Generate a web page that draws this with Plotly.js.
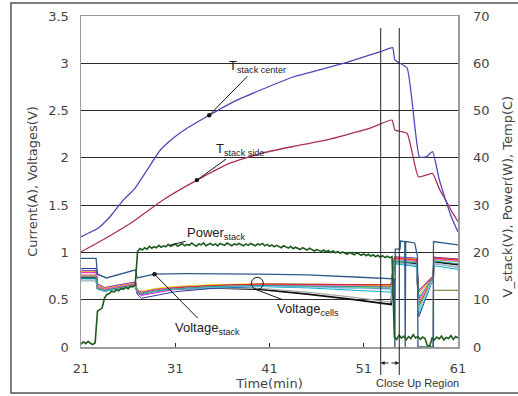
<!DOCTYPE html>
<html><head><meta charset="utf-8">
<script src="https://cdn.plot.ly/plotly-3.0.1.min.js"></script>
<style>html,body{margin:0;padding:0;background:#fff}#chart{width:518px;height:396px}</style>
</head><body><div id="chart"></div>
<script>
// ---- data (time in min) ----
const xTicks = [21, 31, 41, 51, 61];

// cell voltages (left axis, V)
const cellTime = [21, 22.6, 22.75, 23.5, 26.8, 26.95, 27.4, 29, 31, 35, 40, 45, 50, 53.9, 54.25, 56.6, 56.85, 58.2, 58.35, 58.45, 61];
const cell13 = [0.73, 0.73, 0.62, 0.595, 0.655, 0.58, 0.56, 0.595, 0.615, 0.625, 0.61, 0.56, 0.50, 0.45, 0.90, 0.88, 0.44, 0.70, 0.70, 0.90, 0.87];
const cell11 = [0.70, 0.70, 0.61, 0.59, 0.65, 0.58, 0.56, 0.59, 0.61, 0.625, 0.62, 0.58, 0.525, 0.475, 0.89, 0.86, 0.42, 0.69, 0.69, 0.88, 0.84];
const cell01 = [0.83, 0.83, 0.67, 0.60, 0.66, 0.56, 0.515, 0.545, 0.585, 0.62, 0.64, 0.635, 0.625, 0.615, 0.93, 0.90, 0.32, 0.68, 0.68, 0.93, 0.91];
const cell02 = [0.79, 0.79, 0.65, 0.62, 0.68, 0.60, 0.58, 0.61, 0.63, 0.65, 0.665, 0.66, 0.655, 0.65, 0.95, 0.93, 0.45, 0.72, 0.72, 0.95, 0.93];
const cell03 = [0.80, 0.80, 0.66, 0.625, 0.685, 0.61, 0.59, 0.62, 0.64, 0.66, 0.67, 0.665, 0.66, 0.655, 0.94, 0.92, 0.55, 0.73, 0.73, 0.94, 0.92];
const cell04 = [0.76, 0.76, 0.635, 0.60, 0.66, 0.59, 0.57, 0.60, 0.62, 0.64, 0.65, 0.64, 0.63, 0.625, 0.92, 0.90, 0.40, 0.70, 0.70, 0.92, 0.90];
const cell05 = [0.72, 0.72, 0.615, 0.59, 0.65, 0.58, 0.56, 0.59, 0.61, 0.63, 0.64, 0.625, 0.60, 0.58, 0.88, 0.85, 0.35, 0.68, 0.68, 0.86, 0.82];
const cell06 = [0.79, 0.79, 0.645, 0.61, 0.67, 0.57, 0.545, 0.575, 0.61, 0.64, 0.655, 0.65, 0.645, 0.64, 0.93, 0.91, 0.50, 0.72, 0.72, 0.93, 0.91];
const cell07 = [0.81, 0.81, 0.67, 0.63, 0.69, 0.60, 0.58, 0.61, 0.63, 0.65, 0.665, 0.665, 0.66, 0.66, 0.955, 0.94, 0.60, 0.74, 0.74, 0.95, 0.93];
const cell08 = [0.77, 0.77, 0.64, 0.605, 0.665, 0.595, 0.575, 0.605, 0.625, 0.645, 0.66, 0.65, 0.64, 0.635, 0.93, 0.91, 0.48, 0.71, 0.71, 0.93, 0.91];
const cell09 = [0.75, 0.75, 0.625, 0.60, 0.66, 0.59, 0.57, 0.60, 0.625, 0.65, 0.665, 0.66, 0.66, 0.66, 0.94, 0.92, 0.58, 0.73, 0.73, 0.94, 0.92];
const cell10 = [0.71, 0.71, 0.62, 0.595, 0.655, 0.585, 0.565, 0.595, 0.615, 0.635, 0.645, 0.635, 0.62, 0.61, 0.90, 0.87, 0.38, 0.69, 0.69, 0.89, 0.85];
const cell12 = [0.74, 0.74, 0.62, 0.60, 0.655, 0.585, 0.565, 0.595, 0.615, 0.64, 0.65, 0.645, 0.64, 0.635, 0.91, 0.89, 0.52, 0.71, 0.71, 0.91, 0.88];

// current (left axis, A) – only visible in the close-up region
const currentTime = [58.4, 58.4, 61];
const currentVal = [0, 0.6, 0.6];

// stack voltage (right axis, V)
const vStackTime = [21, 22.6, 22.75, 23.7, 26.8, 26.95, 28.8, 32, 40, 45, 50, 53.9, 54.25, 54.3, 54.35, 54.85, 54.9, 55.35, 55.4, 55.45, 56.4, 56.7, 56.75, 58.35, 58.4, 61];
const vStack = [18.74, 18.74, 15.4, 14.6, 16.3, 14.6, 15.4, 15.5, 15.4, 15.25, 14.8, 14.4, 14.4, 0, 20.7, 20.7, 22.4, 22.3, 0, 22.3, 22.0, 19.2, 0, 0, 22.3, 21.6];

// stack power (right axis, W), sampled every 0.25 min from 21 min
const powerStart = 21, powerStep = 0.25;
const powerStack = [
  0.6, 1.1, 0.7, 1.2, 0.8, 0.5, 0.9,
  7.6, 7.9, 8.3,
  10.4, 11.1, 11.3, 11.8, 11.6, 12.1, 11.9, 12.4, 12.2, 12.6, 12.3, 12.8, 12.7, 13.1,
  20.2, 20.8, 20.5, 21.0, 20.7, 21.3, 20.9, 21.2, 21.0, 21.5, 21.1, 21.4, 21.2, 21.7, 21.3, 21.5,
  21.8, 21.3, 21.6, 21.9, 21.4, 21.7, 21.5, 22.0, 21.6, 21.3, 21.8, 21.6, 22.0, 21.4, 21.7, 21.9, 21.5, 21.8, 21.4, 21.9,
  21.7, 21.5, 22.0, 21.6, 21.4, 21.8, 21.6, 21.9, 21.7, 21.4, 21.8, 21.5, 21.9, 21.6, 21.4, 21.8, 21.6, 21.9, 21.4, 21.7,
  21.3, 21.6, 21.2, 21.5, 21.3, 21.0, 21.4, 21.1, 20.9, 21.3, 20.8, 21.1, 20.9, 20.6, 21.0, 20.7, 20.5, 20.9, 20.6, 20.3,
  20.6, 20.4, 20.2, 20.5, 20.1, 20.4, 20.0, 20.3, 19.9, 20.2, 19.8, 20.1, 19.9, 19.6, 20.0, 19.7, 19.5, 19.9, 19.6, 19.4,
  19.7, 19.3, 19.6, 19.2, 19.5, 19.1, 19.4, 19.0, 19.3, 18.9, 19.2, 18.9, 19.1,
  2.1, 1.6, 2.5, 1.9, 2.3, 1.5, 2.2, 1.8, 2.6, 1.9, 2.2, 1.6, 2.1, 1.8,
  0.3, 0.2,
  1.9, 1.5, 2.1, 1.7, 2.3, 1.5, 2.0, 1.8, 2.4, 1.6, 2.2, 1.9
];
const powerTime = powerStack.map((_, i) => powerStart + i * powerStep);

// temperatures (right axis, C)
const tCenterTime = [21, 22.8, 24.1, 25.5, 26.7, 28.0, 29.4, 30.8, 32.2, 34.6, 37.2, 40, 43.5, 46.5, 49.2, 52.7, 54.07, 54.3, 55.6, 56.9, 57.6, 58.3, 59.0, 59.7, 60.3, 61];
const tCenter = [23.3, 25.1, 27.6, 31.1, 33.5, 37.4, 41.6, 44.2, 46.2, 49.0, 51.9, 54.3, 57.1, 58.7, 60.2, 62.4, 63.3, 60.7, 59.0, 40.2, 40.2, 41.3, 35.5, 31.0, 27.5, 24.3];
const tSideTime = [21, 23, 26.5, 29.7, 33.3, 36.8, 40, 43.5, 47.1, 51.7, 54.0, 54.3, 55.6, 56.8, 58.3, 59.0, 59.7, 60.3, 61];
const tSide = [20.1, 22.3, 26.5, 31.1, 35.3, 38.9, 40.9, 42.4, 43.8, 46.3, 48.0, 45.9, 45.2, 36.0, 36.7, 33.5, 31.0, 28.8, 26.5];

// ---- styles ----
const cells = [cell13, cell11, cell01, cell02, cell03, cell04, cell05, cell06, cell07, cell08, cell09, cell10, cell12];
const cellColors = ['#111111', '#a8a8a8', '#2a3a9a', '#ff8c00', '#f2d000', '#78dc78', '#00b4d0', '#e020e0', '#8040c0', '#ff7fbf', '#e02828', '#9cc8ee', '#2a9d8f'];
const cellWidths = [1.8, 1.2, 1, 1, 1, 1, 1, 1, 1, 1, 1, 1, 1];

const traces = [];
cells.forEach((c, i) => {
  traces.push({x: cellTime, y: c, type: 'scatter', mode: 'lines', yaxis: 'y', name: 'Cell ' + (i + 1),
    line: {color: cellColors[i], width: cellWidths[i]}, hoverinfo: 'skip'});
});
traces.push({x: currentTime, y: currentVal, type: 'scatter', mode: 'lines', yaxis: 'y', name: 'Current',
  line: {color: '#6b6b1e', width: 1.2}});
traces.push({x: vStackTime, y: vStack, type: 'scatter', mode: 'lines', yaxis: 'y2', name: 'Voltage stack',
  line: {color: '#2f5a8a', width: 1.3}});
traces.push({x: powerTime, y: powerStack, type: 'scatter', mode: 'lines', yaxis: 'y2', name: 'Power stack',
  line: {color: '#1d5a1d', width: 1.6}});
traces.push({x: tSideTime, y: tSide, type: 'scatter', mode: 'lines', yaxis: 'y2', name: 'T stack side',
  line: {color: '#a8305e', width: 1.3, shape: 'spline', smoothing: 0.4}});
traces.push({x: tCenterTime, y: tCenter, type: 'scatter', mode: 'lines', yaxis: 'y2', name: 'T stack center',
  line: {color: '#4a4ab8', width: 1.3, shape: 'spline', smoothing: 0.4}});

const tickFont = {family: 'DejaVu Sans', size: 13, color: '#444'};
const labFont = {family: 'Liberation Sans', size: 13, color: '#222'};

const layout = {
  width: 518, height: 396,
  margin: {l: 81, r: 60, t: 16, b: 49},
  paper_bgcolor: '#fff', plot_bgcolor: '#fff',
  showlegend: false,
  font: {family: 'DejaVu Sans', color: '#444'},
  xaxis: {
    range: [21, 61], tickvals: xTicks, ticktext: xTicks.map(String),
    showgrid: false, zeroline: false, showline: true, linecolor: '#9a9a9a', linewidth: 1.5, mirror: true,
    ticks: 'inside', ticklen: 4, tickcolor: '#333', tickfont: tickFont, ticklabelstandoff: 9,
    title: {text: 'Time(min)', font: {family: 'DejaVu Sans', size: 13, color: '#444'}, standoff: 2}
  },
  yaxis: {
    range: [0, 3.5], dtick: 0.5, tick0: 0,
    showgrid: true, gridcolor: '#2a2a2a', gridwidth: 1, zeroline: false,
    showline: true, linecolor: '#9a9a9a', linewidth: 1.5,
    ticks: '', tickfont: tickFont, ticklabelstandoff: 8,
    title: {text: 'Current(A), Voltages(V)', font: {family: 'DejaVu Sans', size: 13, color: '#444'}, standoff: 7}
  },
  yaxis2: {
    range: [0, 70], dtick: 10, tick0: 0, overlaying: 'y', side: 'right',
    showgrid: false, zeroline: false, showline: true, linecolor: '#9a9a9a', linewidth: 1.5,
    ticks: '', tickfont: tickFont, ticklabelstandoff: 11
  },
  shapes: [
    {type: 'rect', xref: 'paper', yref: 'paper', x0: -0.1857, x1: 1.2, y0: -0.139, y1: 1.0393,
      line: {color: '#555', width: 1.5}, fillcolor: 'rgba(0,0,0,0)'},
    {type: 'line', xref: 'x', yref: 'paper', x0: 52.8, x1: 52.8, y0: -0.0846, y1: 0.9637, line: {color: '#222', width: 1}},
    {type: 'line', xref: 'x', yref: 'paper', x0: 54.77, x1: 54.77, y0: -0.0846, y1: 0.9637, line: {color: '#222', width: 1}},
    {type: 'circle', xref: 'x', yref: 'y', xsizemode: 'pixel', ysizemode: 'pixel', xanchor: 39.71, yanchor: 0.673,
      x0: -6, x1: 6, y0: -6, y1: 6, line: {color: '#111', width: 1}}
  ],
  annotations: [
    {x: 34.6, y: 49.0, xref: 'x', yref: 'y2', text: 'T<sub>stack center</sub>', showarrow: true, ax: 48, ay: -49,
      arrowhead: 6, arrowsize: 1.1, arrowwidth: 1, arrowcolor: '#111', font: labFont},
    {x: 33.3, y: 35.3, xref: 'x', yref: 'y2', text: 'T<sub>stack side</sub>', showarrow: true, ax: 43, ay: -31,
      arrowhead: 6, arrowsize: 1.1, arrowwidth: 1, arrowcolor: '#111', font: labFont},
    {x: 30.4, y: 21.5, xref: 'x', yref: 'y2', text: 'Power<sub>stack</sub>', showarrow: true, ax: 47, ay: -12,
      arrowhead: 0, arrowwidth: 1, arrowcolor: '#111', font: labFont},
    {x: 28.8, y: 15.4, xref: 'x', yref: 'y2', text: 'Voltage<sub>stack</sub>', showarrow: true, ax: 53, ay: 54,
      arrowhead: 6, arrowsize: 1.1, arrowwidth: 1, arrowcolor: '#111', font: labFont},
    {x: 39.6, y: 0.607, xref: 'x', yref: 'y', text: 'Voltage<sub>cells</sub>', showarrow: true, ax: 52, ay: 20,
      arrowhead: 0, arrowwidth: 1, arrowcolor: '#111', font: labFont},
    {x: 52.8, y: -0.0483, xref: 'x', yref: 'paper', text: '', showarrow: true, ax: 9.3, ay: 0,
      arrowhead: 2, arrowsize: 0.8, arrowwidth: 1, arrowcolor: '#222'},
    {x: 54.77, y: -0.0483, xref: 'x', yref: 'paper', text: '', showarrow: true, ax: -9.3, ay: 0,
      arrowhead: 2, arrowsize: 0.8, arrowwidth: 1, arrowcolor: '#222'},
    {x: 0.8926, y: -0.1088, xref: 'paper', yref: 'paper', text: 'Close Up Region', showarrow: false,
      font: {family: 'Liberation Sans', size: 11, color: '#333'}, xanchor: 'center', yanchor: 'middle'},
    {x: 1.1326, y: 0.4547, xref: 'paper', yref: 'paper', text: 'V_stack(V), Power(W), Temp(C)', showarrow: false,
      textangle: -90, font: {family: 'DejaVu Sans', size: 13, color: '#444'}, xanchor: 'center', yanchor: 'middle'}
  ]
};

Plotly.newPlot('chart', traces, layout, {staticPlot: true, displayModeBar: false});
</script>
</body></html>
